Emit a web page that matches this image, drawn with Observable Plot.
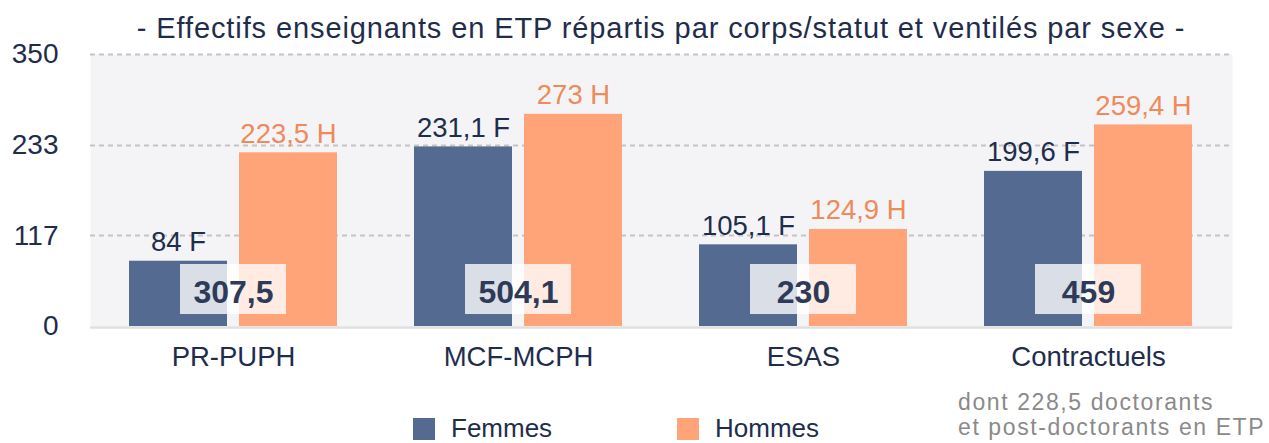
<!DOCTYPE html>
<html>
<head>
<meta charset="utf-8">
<script src="https://cdn.jsdelivr.net/npm/d3@7"></script>
<script src="https://cdn.jsdelivr.net/npm/@observablehq/plot@0.6"></script>
<style>
  html, body { margin: 0; padding: 0; background: #fff; }
  body { width: 1269px; height: 443px; overflow: hidden; font-family: "Liberation Sans", Arial, sans-serif; }
  #title { box-sizing: border-box; height: 43px; padding-top: 12px; line-height: 32px; margin-left: 90px; width: 1142px; text-align: center; font-size: 29px; letter-spacing: 0.9px; color: #1f2d4d; white-space: nowrap; }
  #chart { position: relative; height: 342px; }
  #chart svg { overflow: visible; }
  #bottom { position: relative; height: 58px; }
  .leg { position: absolute; top: 28px; display: flex; align-items: center; font-size: 26px; color: #1f2d4d; }
  .sw { width: 22px; height: 22px; margin-right: 16px; }
  #note { position: absolute; left: 958px; top: 5px; font-size: 23px; line-height: 25px; color: #8a8a8a; letter-spacing: 1.6px; white-space: nowrap; }
</style>
</head>
<body>
<div id="title">- Effectifs enseignants en ETP répartis par corps/statut et ventilés par sexe -</div>
<div id="chart"></div>
<div id="bottom">
  <div class="leg" style="left:413px"><div class="sw" style="background:#556a91"></div>Femmes</div>
  <div class="leg" style="left:677px"><div class="sw" style="background:#ffa479"></div>Hommes</div>
  <div id="note">dont 228,5 doctorants<br>et post-doctorants en ETP</div>
</div>
<script>
const categories = ["PR-PUPH", "MCF-MCPH", "ESAS", "Contractuels"];
const femmes = [84, 231.1, 105.1, 199.6];
const hommes = [223.5, 273, 124.9, 259.4];
const totals = [307.5, 504.1, 230, 459];
const yTicks = [0, 117, 233, 350];

const colF = "#556a91", colH = "#ffa479";
const fr = v => String(v).replace(".", ",");

const rowsF = categories.map((c, i) => ({cat: c, v: femmes[i]}));
const rowsH = categories.map((c, i) => ({cat: c, v: hommes[i]}));
const rowsT = categories.map((c, i) => ({cat: c, v: totals[i]}));

const W = 1269, marginLeft = 90, marginRight = 37, marginTop = 11, marginBottom = 59;
const H = 342;
// bar geometry inside each category band
const halfInset = 110;   // bandwidth minus one bar width
const barOffset = 55;    // centre of each bar relative to the band centre
const boxInset = 51;     // label box inset
const BOX_Y1 = 15.4, BOX_Y2 = 79.8, BOX_MID = (BOX_Y1 + BOX_Y2) / 2;

const plot = Plot.plot({
  width: W, height: H,
  marginLeft, marginRight, marginTop, marginBottom,
  style: {fontFamily: "Liberation Sans, Arial, sans-serif", background: "transparent", overflow: "visible"},
  x: {domain: categories, paddingInner: 0.27, paddingOuter: 0.135, label: null},
  y: {domain: [0, 350], label: null},
  marks: [
    Plot.frame({fill: "#f4f4f6", stroke: null}),
    Plot.ruleY(yTicks.filter(d => d > 0), {stroke: "#c4c4c4", strokeWidth: 2, strokeDasharray: "5,4"}),
    Plot.barY(rowsF, {x: "cat", y: "v", fill: colF, insetRight: halfInset}),
    Plot.barY(rowsH, {x: "cat", y: "v", fill: colH, insetLeft: halfInset}),
    Plot.ruleY([0], {stroke: "#e0e0e0", strokeWidth: 2.5, dy: 1}),
    Plot.text(rowsF, {x: "cat", y: "v", text: d => fr(d.v) + " F", dx: -barOffset, dy: -10, lineAnchor: "bottom", fill: "#1f2d4d", fontSize: 27.5}),
    Plot.text(rowsH, {x: "cat", y: "v", text: d => fr(d.v) + " H", dx: barOffset, dy: -10, lineAnchor: "bottom", fill: "#ef8a5a", fontSize: 27.5}),
    Plot.barY(rowsT, {x: "cat", y1: BOX_Y1, y2: BOX_Y2, fill: "#ffffff", fillOpacity: 0.78, insetLeft: boxInset, insetRight: boxInset}),
    Plot.text(rowsT, {x: "cat", y: BOX_MID, text: d => fr(d.v), fill: "#2d3b59", fontSize: 32, fontWeight: "bold", dy: 3}),
    Plot.axisY({ticks: yTicks, tickSize: 0, tickPadding: 32, fontSize: 28, color: "#1f2d4d", label: null}),
    Plot.axisX({tickSize: 0, tickPadding: 20, fontSize: 27.5, color: "#1f2d4d", label: null})
  ]
});
document.getElementById("chart").appendChild(plot);
</script>
</body>
</html>
